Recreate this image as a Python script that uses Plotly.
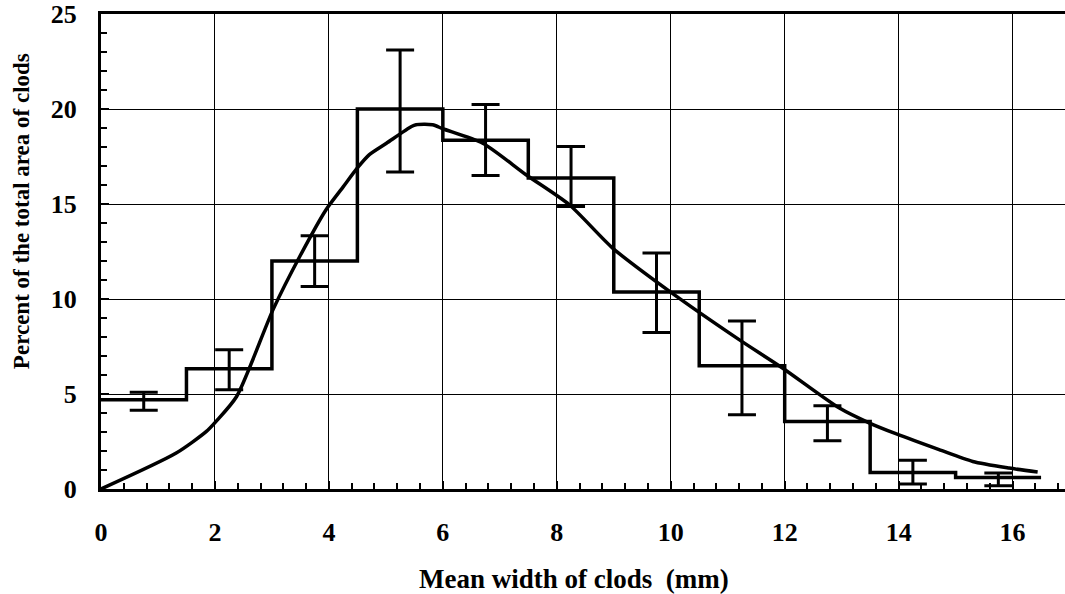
import plotly.graph_objects as go

# Histogram bins (mm) and percentages
bin_edges = [0, 1.5, 3, 4.5, 6, 7.5, 9, 10.5, 12, 13.5, 15, 16.5]
bin_values = [4.7, 6.33, 12.0, 20.0, 18.35, 16.37, 10.37, 6.49, 3.55, 0.87, 0.61]

# Error bars at bin centres
err_x = [0.75, 2.25, 3.75, 5.25, 6.75, 8.25, 9.75, 11.25, 12.75, 14.25, 15.75]
err_top = [5.09, 7.33, 13.33, 23.1, 20.24, 18.03, 12.42, 8.84, 4.38, 1.51, 0.84]
err_bot = [4.14, 5.23, 10.66, 16.68, 16.5, 14.87, 8.24, 3.91, 2.54, 0.26, 0.17]

# Fitted curve
curve_x = [0, 1.32, 1.85, 2.02, 2.38, 3.02, 3.5, 3.95, 4.25, 4.5, 4.71, 5.01, 5.45, 5.53, 5.82, 6.0,
           6.7, 7.46, 8.22, 8.98, 9.98, 11.2, 11.96, 12.96, 13.49, 13.95, 14.71, 15.3, 15.94, 16.44]
curve_y = [0, 1.89, 3.03, 3.56, 4.87, 9.44, 12.3, 14.7, 15.9, 16.9, 17.6, 18.2, 19.08, 19.17, 19.17, 18.96,
           18.2, 16.54, 14.96, 12.68, 10.4, 7.86, 6.37, 4.26, 3.47, 2.91, 2.07, 1.45, 1.1, 0.89]

x_ticks = [0, 2, 4, 6, 8, 10, 12, 14, 16]
y_ticks = [0, 5, 10, 15, 20, 25]

x_title = "Mean width of clods  (mm)"
y_title = "Percent of the total area of clods"

FONT = "Liberation Serif"

fig = go.Figure()

fig.add_trace(go.Scatter(
    x=bin_edges, y=bin_values + [bin_values[-1]],
    mode="lines", line=dict(color="black", width=3.5, shape="hv"),
    showlegend=False, hoverinfo="skip"))

mid = [(t + b) / 2 for t, b in zip(err_top, err_bot)]
half = [(t - b) / 2 for t, b in zip(err_top, err_bot)]
fig.add_trace(go.Scatter(
    x=err_x, y=mid, mode="markers",
    marker=dict(size=1, color="rgba(0,0,0,0)"),
    error_y=dict(type="data", array=half, symmetric=True,
                 color="black", thickness=3, width=14),
    showlegend=False, hoverinfo="skip"))

fig.add_trace(go.Scatter(
    x=curve_x, y=curve_y, mode="lines",
    line=dict(color="black", width=3.5, shape="spline", smoothing=0.7),
    showlegend=False, hoverinfo="skip"))

fig.update_layout(
    width=1065, height=594,
    margin=dict(l=101, r=0, t=14, b=105),
    paper_bgcolor="white", plot_bgcolor="white",
    font=dict(family=FONT, size=25, color="black"),
    xaxis=dict(
        range=[0, 16.92], tickvals=x_ticks, ticktext=[str(v) for v in x_ticks],
        showgrid=True, gridcolor="black", gridwidth=1,
        showline=True, linecolor="black", linewidth=3, mirror=True,
        ticks="inside", ticklen=8, tickwidth=2, tickcolor="black",
        minor=dict(dtick=0.4, tick0=0, ticks="inside", ticklen=6, tickwidth=2,
                   tickcolor="black", showgrid=False),
        zeroline=False,
        tickfont=dict(family=FONT, size=26, color="black", weight="bold"),
        ticklabelstandoff=18,
    ),
    yaxis=dict(
        range=[0, 25], tickvals=y_ticks, ticktext=[str(v) for v in y_ticks],
        showgrid=True, gridcolor="black", gridwidth=1,
        showline=True, linecolor="black", linewidth=3,
        ticks="inside", ticklen=8, tickwidth=2, tickcolor="black",
        minor=dict(dtick=1, tick0=0, ticks="inside", ticklen=6, tickwidth=2,
                   tickcolor="black", showgrid=False),
        zeroline=False,
        tickfont=dict(family=FONT, size=26, color="black", weight="bold"),
        ticklabelstandoff=16,
    ),
    annotations=[
        dict(text="<b>" + x_title + "</b>", xref="paper", yref="paper",
             x=0.4907, y=0, xanchor="center", yanchor="middle", yshift=-90,
             showarrow=False, font=dict(family=FONT, size=27, color="black")),
        dict(text="<b>" + y_title + "</b>", xref="paper", yref="paper",
             x=0, y=0.585, xanchor="center", yanchor="middle", xshift=-80,
             textangle=-90, showarrow=False,
             font=dict(family=FONT, size=23, color="black")),
    ],
)

fig.write_html("out.html")
